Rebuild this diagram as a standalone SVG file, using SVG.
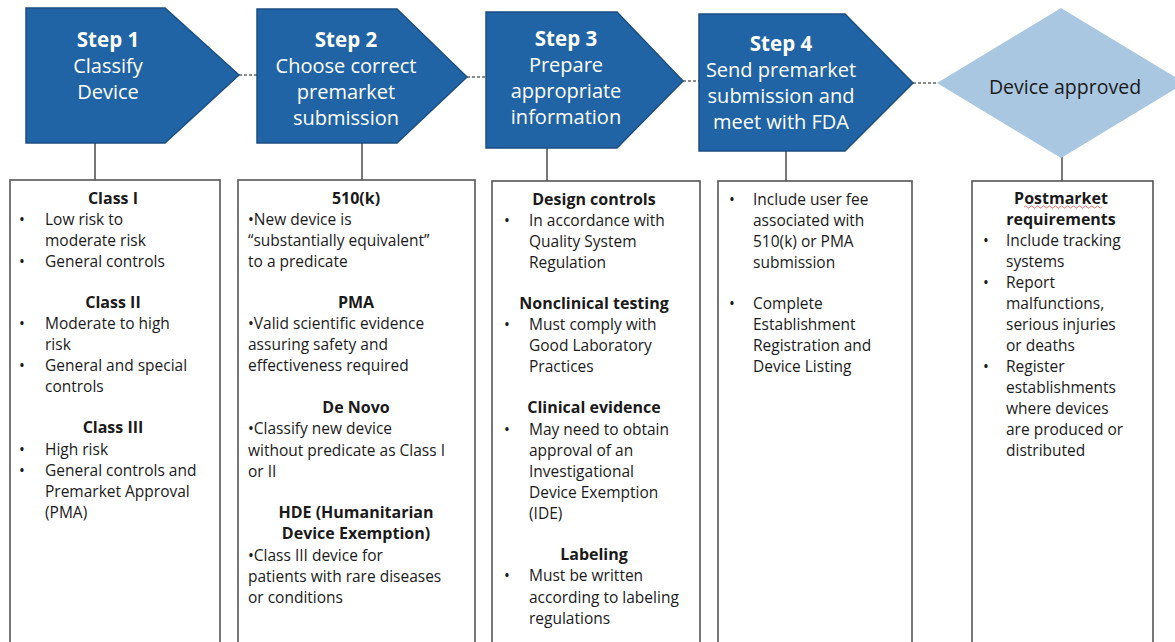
<svg xmlns="http://www.w3.org/2000/svg" width="1175" height="642" viewBox="0 0 1175 642">
  <style>
    .step { fill: #2064a6; stroke: #1b4e82; stroke-width: 1.5; }
    .goal { fill: #a9c7e1; }
    .card { fill: #ffffff; stroke: #555555; stroke-width: 1.6; }
    .link { stroke: #555555; stroke-width: 1.6; fill: none; }
    .dash { stroke: #666666; stroke-width: 1.5; stroke-dasharray: 3 2; fill: none; }
    .st { font-family: "Open Sans", "Liberation Sans", sans-serif; fill: #ffffff; font-size: 20px; text-anchor: middle; }
    .st .hd { font-weight: bold; font-size: 20.5px; }
    .tx { font-family: "Open Sans", "Liberation Sans", sans-serif; fill: #1a1a1a; font-size: 15.5px; }
    .hd2 { font-weight: bold; text-anchor: middle; font-size: 16px; }
  </style>

  <rect width="1175" height="642" fill="#ffffff"/>

  <!-- connectors -->
  <g id="connectors">
    <line class="dash" x1="239" y1="75" x2="257" y2="75"/>
    <line class="dash" x1="467" y1="77" x2="486" y2="77"/>
    <line class="dash" x1="683" y1="81" x2="699" y2="81"/>
    <line class="dash" x1="913" y1="83" x2="937" y2="83"/>
    <line class="link" x1="95" y1="143" x2="95" y2="180"/>
    <line class="link" x1="362" y1="143" x2="362" y2="180"/>
    <line class="link" x1="547" y1="148" x2="547" y2="181"/>
    <line class="link" x1="786" y1="151" x2="786" y2="181"/>
    <line class="link" x1="1062" y1="157" x2="1062" y2="181"/>
  </g>

  <!-- step 1 -->
  <g id="step1">
    <path class="step" d="M26,8 L165,8 L239,75 L165,143 L26,143 Z"/>
    <text class="st"><tspan class="hd" x="108" y="47">Step 1</tspan><tspan x="108" y="73">Classify</tspan><tspan x="108" y="99">Device</tspan></text>
  </g>

  <!-- step 2 -->
  <g id="step2">
    <path class="step" d="M257,9 L397,9 L467,77 L397,143 L257,143 Z"/>
    <text class="st"><tspan class="hd" x="346" y="47">Step 2</tspan><tspan x="346" y="73">Choose correct</tspan><tspan x="346" y="99">premarket</tspan><tspan x="346" y="125">submission</tspan></text>
  </g>

  <!-- step 3 -->
  <g id="step3">
    <path class="step" d="M486,12 L617,12 L683,81 L617,148 L486,148 Z"/>
    <text class="st"><tspan class="hd" x="566" y="46">Step 3</tspan><tspan x="566" y="72">Prepare</tspan><tspan x="566" y="98">appropriate</tspan><tspan x="566" y="124">information</tspan></text>
  </g>

  <!-- step 4 -->
  <g id="step4">
    <path class="step" d="M699,14 L845,14 L913,83 L845,151 L699,151 Z"/>
    <text class="st"><tspan class="hd" x="781" y="51">Step 4</tspan><tspan x="781" y="77">Send premarket</tspan><tspan x="781" y="103">submission and</tspan><tspan x="781" y="129">meet with FDA</tspan></text>
  </g>

  <!-- approval decision -->
  <g id="approved">
    <path class="goal" d="M937,83 L1061,8 L1185,83 L1061,158 Z"/>
    <text x="1065" y="94" font-family="'Open Sans', 'Liberation Sans', sans-serif" font-size="19.5" fill="#1a1a1a" text-anchor="middle">Device approved</text>
  </g>

  <!-- classification details -->
  <g id="box-classify">
    <rect class="card" x="10" y="180" width="210" height="470"/>
    <text class="tx">
      <tspan class="hd2" x="115" y="204">Class I</tspan>
      <tspan x="19" y="225">•</tspan><tspan x="45" y="225">Low risk to</tspan>
      <tspan x="45" y="246">moderate risk</tspan>
      <tspan x="19" y="267">•</tspan><tspan x="45" y="267">General controls</tspan>
      <tspan class="hd2" x="115" y="308">Class II</tspan>
      <tspan x="19" y="329">•</tspan><tspan x="45" y="329">Moderate to high</tspan>
      <tspan x="45" y="350">risk</tspan>
      <tspan x="19" y="371">•</tspan><tspan x="45" y="371">General and special</tspan>
      <tspan x="45" y="392">controls</tspan>
      <tspan class="hd2" x="115" y="433">Class III</tspan>
      <tspan x="19" y="455">•</tspan><tspan x="45" y="455">High risk</tspan>
      <tspan x="19" y="476">•</tspan><tspan x="45" y="476">General controls and</tspan>
      <tspan x="45" y="497">Premarket Approval</tspan>
      <tspan x="45" y="518">(PMA)</tspan>
    </text>
  </g>

  <!-- submission types -->
  <g id="box-submission">
    <rect class="card" x="238" y="180" width="237" height="470"/>
    <text class="tx">
      <tspan class="hd2" x="358" y="204">510(k)</tspan>
      <tspan x="248" y="225">•New device is</tspan>
      <tspan x="248" y="246">“substantially equivalent”</tspan>
      <tspan x="248" y="267">to a predicate</tspan>
      <tspan class="hd2" x="358" y="308">PMA</tspan>
      <tspan x="248" y="329">•Valid scientific evidence</tspan>
      <tspan x="248" y="350">assuring safety and</tspan>
      <tspan x="248" y="371">effectiveness required</tspan>
      <tspan class="hd2" x="358" y="413">De Novo</tspan>
      <tspan x="248" y="434">•Classify new device</tspan>
      <tspan x="248" y="456">without predicate as Class I</tspan>
      <tspan x="248" y="477">or II</tspan>
      <tspan class="hd2" x="358" y="518">HDE (Humanitarian</tspan>
      <tspan class="hd2" x="358" y="539">Device Exemption)</tspan>
      <tspan x="248" y="561">•Class III device for</tspan>
      <tspan x="248" y="582">patients with rare diseases</tspan>
      <tspan x="248" y="603">or conditions</tspan>
    </text>
  </g>

  <!-- information to prepare -->
  <g id="box-information">
    <rect class="card" x="492" y="181" width="208" height="470"/>
    <text class="tx">
      <tspan class="hd2" x="596" y="205">Design controls</tspan>
      <tspan x="504" y="226">•</tspan><tspan x="529" y="226">In accordance with</tspan>
      <tspan x="529" y="247">Quality System</tspan>
      <tspan x="529" y="268">Regulation</tspan>
      <tspan class="hd2" x="596" y="309">Nonclinical testing</tspan>
      <tspan x="504" y="330">•</tspan><tspan x="529" y="330">Must comply with</tspan>
      <tspan x="529" y="351">Good Laboratory</tspan>
      <tspan x="529" y="372">Practices</tspan>
      <tspan class="hd2" x="596" y="413">Clinical evidence</tspan>
      <tspan x="504" y="435">•</tspan><tspan x="529" y="435">May need to obtain</tspan>
      <tspan x="529" y="456">approval of an</tspan>
      <tspan x="529" y="477">Investigational</tspan>
      <tspan x="529" y="498">Device Exemption</tspan>
      <tspan x="529" y="519">(IDE)</tspan>
      <tspan class="hd2" x="596" y="560">Labeling</tspan>
      <tspan x="504" y="581">•</tspan><tspan x="529" y="581">Must be written</tspan>
      <tspan x="529" y="603">according to labeling</tspan>
      <tspan x="529" y="624">regulations</tspan>
    </text>
  </g>

  <!-- submission requirements -->
  <g id="box-submit">
    <rect class="card" x="718" y="181" width="194" height="470"/>
    <text class="tx">
      <tspan x="729" y="205">•</tspan><tspan x="753" y="205">Include user fee</tspan>
      <tspan x="753" y="226">associated with</tspan>
      <tspan x="753" y="247">510(k) or PMA</tspan>
      <tspan x="753" y="268">submission</tspan>
      <tspan x="729" y="309">•</tspan><tspan x="753" y="309">Complete</tspan>
      <tspan x="753" y="330">Establishment</tspan>
      <tspan x="753" y="351">Registration and</tspan>
      <tspan x="753" y="372">Device Listing</tspan>
    </text>
  </g>

  <!-- postmarket requirements -->
  <g id="box-postmarket">
    <rect class="card" x="972" y="181" width="181" height="470"/>
    <text class="tx">
      <tspan class="hd2" x="1063" y="204">Postmarket</tspan>
      <tspan class="hd2" x="1063" y="225">requirements</tspan>
      <tspan x="983" y="246">•</tspan><tspan x="1006" y="246">Include tracking</tspan>
      <tspan x="1006" y="267">systems</tspan>
      <tspan x="983" y="288">•</tspan><tspan x="1006" y="288">Report</tspan>
      <tspan x="1006" y="309">malfunctions,</tspan>
      <tspan x="1006" y="330">serious injuries</tspan>
      <tspan x="1006" y="351">or deaths</tspan>
      <tspan x="983" y="372">•</tspan><tspan x="1006" y="372">Register</tspan>
      <tspan x="1006" y="393">establishments</tspan>
      <tspan x="1006" y="414">where devices</tspan>
      <tspan x="1006" y="435">are produced or</tspan>
      <tspan x="1006" y="456">distributed</tspan>
    </text>
    <path d="M1024,207 q1.5,-2 3,0 t3,0 t3,0 t3,0 t3,0 t3,0 t3,0 t3,0 t3,0 t3,0 t3,0 t3,0 t3,0 t3,0 t3,0 t3,0 t3,0 t3,0 t3,0 t3,0 t3,0 t3,0 t3,0 t3,0 t3,0 t3,0" fill="none" stroke="#e05050" stroke-width="0.8"/>
  </g>
</svg>
